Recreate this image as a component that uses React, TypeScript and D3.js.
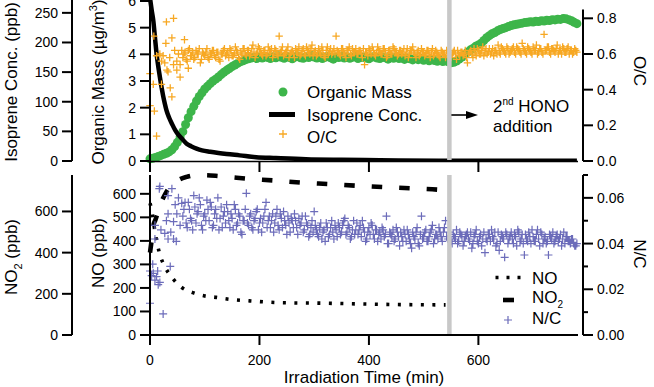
import * as d3 from 'd3';

const W = 654;
const H = 387;
const FONT = '"Liberation Sans", Arial, Helvetica, sans-serif';

// organic mass (µg/m3), one reading every omStep minutes from t = 0
const omStep = 5;
const organicMass = [
  0.08, 0.1, 0.13, 0.17, 0.21, 0.25, 0.29, 0.34, 0.42, 0.54,
  0.7, 0.9, 1.1, 1.37, 1.62, 1.85, 2.05, 2.25, 2.42, 2.56,
  2.7, 2.8, 2.9, 3.0, 3.07, 3.15, 3.24, 3.33, 3.4, 3.47,
  3.54, 3.6, 3.66, 3.72, 3.76, 3.8, 3.83, 3.86, 3.88, 3.84,
  3.9, 3.86, 3.93, 3.88, 3.84, 3.91, 3.87, 3.95, 3.89, 3.85,
  3.92, 3.88, 3.83, 3.9, 3.94, 3.87, 3.85, 3.91, 3.88, 3.96,
  3.9, 3.86, 3.92, 3.84, 3.89, 3.93, 3.87, 3.82, 3.9, 3.88,
  3.94, 3.86, 3.91, 3.85, 3.89, 3.92, 3.84, 3.88, 3.9, 3.86,
  3.83, 3.89, 3.92, 3.86, 3.84, 3.9, 3.87, 3.82, 3.88, 3.85,
  3.9, 3.84, 3.87, 3.81, 3.86, 3.83, 3.79, 3.85, 3.8, 3.84,
  3.78, 3.82, 3.76, 3.8, 3.77, 3.74, 3.78, 3.73, 3.76, 3.72,
  3.68, 3.7, 3.75, 3.82, 3.9, 3.98, 4.08, 4.16, 4.22, 4.3,
  4.35, 4.42, 4.52, 4.62, 4.7, 4.77, 4.82, 4.88, 4.93, 4.97,
  5.0, 5.04, 5.08, 5.11, 5.13, 5.15, 5.17, 5.19, 5.2, 5.22,
  5.21, 5.24, 5.23, 5.26, 5.25, 5.28, 5.27, 5.3, 5.29, 5.32,
  5.31, 5.34, 5.33, 5.3, 5.26, 5.2, 5.15,
];

// isoprene (ppb): [min, ppb]
const isoprene: [number, number][] = [
  [0, 275], [3, 255], [6, 237], [9, 209], [12, 181], [15, 160], [18, 142],
  [21, 125], [24, 110], [27, 97], [30, 86], [35, 73], [40, 63], [46, 52],
  [52, 44], [60, 36], [67, 29], [75, 25], [85, 21], [95, 18], [110, 15.5],
  [125, 13.5], [140, 11.8], [164, 9.5], [194, 6.5], [230, 5], [285, 3],
  [350, 2], [420, 1.3], [528, 0.6], [650, 0.4], [780, 0.3],
];

// O/C: scattered early readings, then two interleaved runs every 4 min
const ocEarly: [number, number][] = [
  [0, 0.49], [0, 0.31], [6, 0.43], [8, 0.28], [12, 0.14], [7, 0.7], [12, 0.59],
  [18, 0.6], [21, 0.56], [24, 0.59], [21, 0.43], [27, 0.55], [29, 0.66],
  [30, 0.78], [31, 0.51], [33, 0.5], [36, 0.58], [37, 0.41], [40, 0.36],
  [40, 0.69], [43, 0.8], [43, 0.54], [45, 0.62], [49, 0.56], [49, 0.51],
  [52, 0.6], [55, 0.54], [55, 0.47], [58, 0.62], [63, 0.68], [70, 0.52],
];
const ocStep = 4;
const ocStartA = 60;
const ocValuesA = [
  0.58, 0.61, 0.56, 0.63, 0.59, 0.57, 0.62, 0.6, 0.55, 0.61,
  0.59, 0.63, 0.57, 0.6, 0.62, 0.58, 0.61, 0.56, 0.6, 0.63,
  0.6, 0.58, 0.62, 0.59, 0.64, 0.61, 0.57, 0.6, 0.63, 0.59,
  0.62, 0.6, 0.65, 0.58, 0.61, 0.63, 0.6, 0.62, 0.59, 0.64,
  0.61, 0.58, 0.63, 0.6, 0.7, 0.62, 0.59, 0.61, 0.64, 0.6,
  0.62, 0.58, 0.61, 0.64, 0.6, 0.63, 0.59, 0.62, 0.6, 0.65,
  0.61, 0.59, 0.63, 0.6, 0.62, 0.58, 0.64, 0.61, 0.6, 0.63,
  0.7, 0.61, 0.59, 0.63, 0.6, 0.62, 0.64, 0.59, 0.61, 0.63,
  0.6, 0.62, 0.58, 0.54, 0.61, 0.63, 0.6, 0.62, 0.59, 0.64,
  0.61, 0.6, 0.63, 0.58, 0.62, 0.6, 0.64, 0.61, 0.59, 0.62,
  0.6, 0.63, 0.61, 0.58, 0.62, 0.64, 0.6, 0.61, 0.59, 0.63,
  0.61, 0.6, 0.62, 0.58, 0.63, 0.6, 0.61, 0.59, 0.62, 0.6,
  0.58, 0.61, 0.59, 0.6, 0.62, 0.57, 0.6, 0.61, 0.59, 0.62,
  0.55, 0.61, 0.6, 0.63, 0.59, 0.62, 0.6, 0.64, 0.61, 0.6,
  0.63, 0.61, 0.59, 0.62, 0.65, 0.6, 0.63, 0.61, 0.64, 0.6,
  0.62, 0.64, 0.6, 0.63, 0.61, 0.66, 0.62, 0.6, 0.63, 0.61,
  0.64, 0.62, 0.6, 0.63, 0.61, 0.71, 0.62, 0.64, 0.6, 0.63,
  0.61, 0.65, 0.62, 0.6, 0.63, 0.61, 0.64, 0.62, 0.6, 0.63,
  0.61,
];
const ocStartB = 62;
const ocValuesB = [
  0.6, 0.57, 0.62, 0.59, 0.61, 0.58, 0.6, 0.63, 0.57, 0.6,
  0.61, 0.58, 0.6, 0.62, 0.59, 0.61, 0.57, 0.6, 0.62, 0.59,
  0.61, 0.63, 0.59, 0.6, 0.62, 0.58, 0.61, 0.63, 0.6, 0.62,
  0.59, 0.63, 0.61, 0.6, 0.64, 0.61, 0.59, 0.62, 0.6, 0.62,
  0.63, 0.6, 0.62, 0.59, 0.61, 0.64, 0.6, 0.62, 0.58, 0.61,
  0.6, 0.63, 0.61, 0.59, 0.62, 0.6, 0.64, 0.61, 0.63, 0.59,
  0.62, 0.6, 0.61, 0.64, 0.59, 0.62, 0.6, 0.63, 0.61, 0.6,
  0.62, 0.6, 0.63, 0.61, 0.58, 0.62, 0.6, 0.63, 0.61, 0.6,
  0.62, 0.6, 0.63, 0.61, 0.59, 0.62, 0.64, 0.6, 0.61, 0.62,
  0.6, 0.63, 0.61, 0.59, 0.62, 0.6, 0.63, 0.61, 0.6, 0.62,
  0.61, 0.59, 0.63, 0.6, 0.62, 0.61, 0.58, 0.62, 0.6, 0.61,
  0.59, 0.62, 0.6, 0.61, 0.59, 0.62, 0.6, 0.58, 0.61, 0.6,
  0.62, 0.6, 0.58, 0.61, 0.6, 0.62, 0.59, 0.61, 0.6, 0.58,
  0.6, 0.62, 0.58, 0.61, 0.63, 0.6, 0.62, 0.59, 0.63, 0.61,
  0.6, 0.63, 0.62, 0.6, 0.61, 0.64, 0.62, 0.6, 0.63, 0.61,
  0.63, 0.61, 0.64, 0.62, 0.6, 0.63, 0.61, 0.64, 0.62, 0.6,
  0.62, 0.65, 0.61, 0.63, 0.6, 0.62, 0.64, 0.61, 0.63, 0.62,
  0.63, 0.6, 0.62, 0.64, 0.61, 0.63, 0.6, 0.62, 0.61, 0.62,
];

// NO and NO2 (ppb): [min, ppb]
const noConc: [number, number][] = [
  [0, 560], [3, 532], [9, 440], [14, 380], [19.5, 331], [27, 291], [40, 245],
  [58, 202], [78, 180], [100, 166], [121, 160], [141, 153], [182, 145],
  [243, 137], [322, 135], [406, 131], [470, 129], [540, 128],
];
const no2Conc: [number, number][] = [
  [0, 400], [3, 460], [6, 530], [10, 560], [15, 600], [20, 640], [25, 670],
  [30, 695], [36, 718], [45, 740], [55, 757], [67, 768], [80, 775], [100, 776],
  [125, 772], [150, 766], [175, 760], [228, 750], [277, 740], [325, 733],
  [378, 725], [429, 718], [478, 712], [530, 705], [540, 703],
];

// N/C: scattered early readings, then two interleaved runs every 4 min
const ncEarly: [number, number][] = [
  [0, 0.028], [0, 0.0139], [3, 0.026], [5, 0.031], [6, 0.027], [9, 0.024],
  [9, 0.048], [9, 0.042], [12, 0.0255], [14, 0.028], [15, 0.022], [17, 0.064],
  [18, 0.065], [18, 0.023], [20, 0.046], [24, 0.0092], [27, 0.0445], [30, 0.05],
  [33, 0.061], [33, 0.053], [33, 0.042], [37, 0.03], [38, 0.045], [40, 0.064],
  [43, 0.042], [43, 0.0496], [46, 0.057], [48, 0.041], [49, 0.053], [52, 0.06],
  [55, 0.048], [58, 0.0576],
];
const ncStep = 4;
const ncStartA = 60;
const ncValuesA = [
  0.052, 0.058, 0.047, 0.055, 0.05, 0.061, 0.049, 0.054, 0.057, 0.046,
  0.053, 0.059, 0.05, 0.056, 0.048, 0.055, 0.06, 0.051, 0.047, 0.054,
  0.057, 0.05, 0.053, 0.046, 0.055, 0.049, 0.052, 0.044, 0.05, 0.062,
  0.048, 0.053, 0.046, 0.051, 0.055, 0.049, 0.045, 0.052, 0.058, 0.05,
  0.047, 0.053, 0.049, 0.055, 0.046, 0.051, 0.054, 0.048, 0.052, 0.045,
  0.05, 0.053, 0.047, 0.051, 0.049, 0.045, 0.052, 0.048, 0.044, 0.05,
  0.054, 0.046, 0.043, 0.049, 0.045, 0.041, 0.047, 0.044, 0.05, 0.042,
  0.046, 0.049, 0.044, 0.048, 0.051, 0.045, 0.047, 0.043, 0.05, 0.046,
  0.044, 0.048, 0.05, 0.045, 0.042, 0.047, 0.049, 0.044, 0.046, 0.041,
  0.045, 0.047, 0.043, 0.052, 0.04, 0.044, 0.046, 0.042, 0.045, 0.039,
  0.043, 0.046, 0.041, 0.044, 0.04, 0.045, 0.042, 0.047, 0.039, 0.052,
  0.043, 0.046, 0.041, 0.045, 0.048, 0.042, 0.044, 0.047, 0.043, 0.045,
  0.05, 0.042, 0.045, 0.04, 0.043, 0.046, 0.041, 0.044, 0.039, 0.043,
  0.045, 0.041, 0.038, 0.043, 0.046, 0.04, 0.044, 0.042, 0.036, 0.041,
  0.044, 0.046, 0.042, 0.039, 0.045, 0.041, 0.043, 0.034, 0.044, 0.042,
  0.045, 0.04, 0.043, 0.046, 0.041, 0.044, 0.035, 0.042, 0.045, 0.04,
  0.043, 0.041, 0.046, 0.039, 0.044, 0.042, 0.04, 0.035, 0.043, 0.045,
  0.041, 0.044, 0.042, 0.039, 0.045, 0.043, 0.041, 0.04, 0.042, 0.039,
  0.04,
];
const ncStartB = 62;
const ncValuesB = [
  0.055, 0.049, 0.058, 0.051, 0.046, 0.056, 0.053, 0.06, 0.048, 0.052,
  0.05, 0.055, 0.058, 0.047, 0.053, 0.051, 0.046, 0.056, 0.052, 0.049,
  0.054, 0.047, 0.051, 0.057, 0.048, 0.053, 0.045, 0.05, 0.055, 0.049,
  0.052, 0.047, 0.05, 0.054, 0.046, 0.051, 0.049, 0.055, 0.047, 0.052,
  0.05, 0.045, 0.052, 0.048, 0.053, 0.047, 0.05, 0.044, 0.049, 0.051,
  0.047, 0.05, 0.044, 0.048, 0.052, 0.046, 0.049, 0.043, 0.047, 0.045,
  0.048, 0.044, 0.047, 0.042, 0.046, 0.049, 0.043, 0.047, 0.045, 0.048,
  0.043, 0.047, 0.045, 0.05, 0.044, 0.048, 0.042, 0.046, 0.044, 0.049,
  0.046, 0.043, 0.047, 0.041, 0.045, 0.044, 0.048, 0.042, 0.046, 0.044,
  0.042, 0.046, 0.044, 0.04, 0.045, 0.043, 0.041, 0.047, 0.043, 0.045,
  0.041, 0.044, 0.046, 0.042, 0.038, 0.043, 0.045, 0.04, 0.044, 0.042,
  0.045, 0.041, 0.043, 0.046, 0.04, 0.044, 0.042, 0.045, 0.041, 0.047,
  0.043, 0.045, 0.041, 0.044, 0.042, 0.04, 0.045, 0.043, 0.041, 0.044,
  0.042, 0.045, 0.04, 0.044, 0.041, 0.043, 0.039, 0.045, 0.042, 0.044,
  0.041, 0.043, 0.045, 0.04, 0.037, 0.044, 0.042, 0.045, 0.04, 0.043,
  0.042, 0.044, 0.039, 0.045, 0.042, 0.04, 0.044, 0.041, 0.043, 0.046,
  0.041, 0.044, 0.042, 0.045, 0.04, 0.043, 0.041, 0.044, 0.042, 0.04,
  0.043, 0.041, 0.044, 0.042, 0.04, 0.043, 0.041, 0.042, 0.04, 0.039,
];

const hono2Time = 547; // second HONO addition (min)

const xTicks = [0, 200, 400, 600];
const isoTicks = [0, 50, 100, 150, 200, 250];
const omTicks = [0, 1, 2, 3, 4, 5, 6];
const ocTicks = [0, 0.2, 0.4, 0.6, 0.8];
const no2Ticks = [0, 200, 400, 600];
const noTicks = [0, 100, 200, 300, 400, 500, 600];
const ncTicks = [0, 0.02, 0.04, 0.06];
const ncMinorTicks = [0.01, 0.03, 0.05, 0.07];

const GREEN = '#3db54a';
const ORANGE = '#f7a823';
const PURPLE = '#6c6cba';
const GREY = '#c8c8c8';

// layout
const L_AX = 72;
const M_AX = 150;
const R_AX = 583;
const TOP_Y0 = 1;
const TOP_Y1 = 161;
const BOT_Y0 = 175;
const BOT_Y1 = 335;

const x = d3.scaleLinear().domain([0, 782]).range([M_AX, 578]);
const yOM = d3.scaleLinear().domain([0, 6]).range([TOP_Y1, TOP_Y0]);
const yIso = d3.scaleLinear().domain([0, 270]).range([TOP_Y1, TOP_Y0]);
const yOC = d3.scaleLinear().domain([0, 0.85]).range([TOP_Y1, 9.4]);
const yNO = d3.scaleLinear().domain([0, 680]).range([BOT_Y1, BOT_Y0]);
const yNO2 = d3.scaleLinear().domain([0, 777]).range([BOT_Y1, BOT_Y0]);
const yNC = d3.scaleLinear().domain([0, 0.07]).range([BOT_Y1, BOT_Y0]);

const crosses = (pts: number[][], r: number) =>
  pts.map(([px, py]) => `M${px - r},${py}h${2 * r}M${px},${py - r}v${2 * r}`).join('');

const VAxis = ({ at, scale, ticks, side, fmt, y0, y1, minor = [] }: any) => {
  const dir = side === 'left' ? -1 : 1;
  return (
    <g>
      <line x1={at} x2={at} y1={y0} y2={y1} stroke="#000" strokeWidth={2} />
      {ticks.map((t: number) => (
        <g key={t}>
          <line x1={at} x2={at + dir * 10} y1={scale(t)} y2={scale(t)} stroke="#000" strokeWidth={2} />
          <text x={at + dir * 14} y={scale(t) + 5} fontSize={14}
            textAnchor={side === 'left' ? 'end' : 'start'}>{fmt(t)}</text>
        </g>
      ))}
      {minor.map((t: number) => (
        <line key={'m' + t} x1={at} x2={at + dir * 5} y1={scale(t)} y2={scale(t)} stroke="#000" strokeWidth={2} />
      ))}
    </g>
  );
};

export default function App() {
  const omPts = organicMass.map((v, i) => [x(i * omStep), yOM(v)]);
  const ocPts = [
    ...ocEarly.map(([t, v]) => [x(t), yOC(v)]),
    ...ocValuesA.map((v, i) => [x(ocStartA + i * ocStep), yOC(v)]),
    ...ocValuesB.map((v, i) => [x(ocStartB + i * ocStep), yOC(v)]),
  ];
  const ncPts = [
    ...ncEarly.map(([t, v]) => [x(t), yNC(v)]),
    ...ncValuesA.map((v, i) => [x(ncStartA + i * ncStep), yNC(v)]),
    ...ncValuesB.map((v, i) => [x(ncStartB + i * ncStep), yNC(v)]),
  ];

  const isoLine = d3.line<[number, number]>()
    .x(d => x(d[0])).y(d => yIso(d[1])).curve(d3.curveMonotoneX);
  const noLine = d3.line<[number, number]>()
    .x(d => x(d[0])).y(d => yNO(d[1])).curve(d3.curveMonotoneX);
  const no2Line = d3.line<[number, number]>()
    .x(d => x(d[0])).y(d => yNO2(d[1])).curve(d3.curveMonotoneX);

  const gx = x(hono2Time);
  const f1 = d3.format('.1f');
  const f2 = d3.format('.2f');

  return (
    <svg width={W} height={H} style={{ position: 'absolute', left: 0, top: 0, background: '#fff' }}
      fontFamily={FONT} fill="#000">
      <defs>
        <clipPath id="topClip"><rect x={0} y={0} width={W} height={TOP_Y1 + 1} /></clipPath>
      </defs>

      {/* top panel data */}
      <g fill={GREEN}>
        {omPts.map((p, i) => <circle key={i} cx={p[0]} cy={p[1]} r={4.5} />)}
      </g>
      <path d={isoLine(isoprene) || ''} fill="none" stroke="#000" strokeWidth={4.5} clipPath="url(#topClip)" />
      <path d={crosses(ocPts, 3.7)} stroke={ORANGE} strokeWidth={1.3} fill="none" />
      <line x1={gx} x2={gx} y1={0} y2={TOP_Y1 - 1} stroke={GREY} strokeWidth={4.5} />

      {/* bottom panel data */}
      <path d={noLine(noConc) || ''} fill="none" stroke="#000" strokeWidth={3.6} strokeDasharray="3 8.5" />
      <path d={no2Line(no2Conc) || ''} fill="none" stroke="#000" strokeWidth={4.6} strokeDasharray="10.5 17" />
      <path d={crosses(ncPts, 4)} stroke={PURPLE} strokeWidth={1.2} fill="none" />
      <line x1={gx} x2={gx} y1={BOT_Y0} y2={BOT_Y1} stroke={GREY} strokeWidth={4.5} />

      {/* x axes */}
      <line x1={M_AX} x2={578} y1={TOP_Y1 + 0.5} y2={TOP_Y1 + 0.5} stroke="#000" strokeWidth={1.5} />
      <line x1={M_AX - 1} x2={578} y1={BOT_Y1} y2={BOT_Y1} stroke="#000" strokeWidth={2} />
      {xTicks.map(t => (
        <g key={t}>
          <line x1={x(t)} x2={x(t)} y1={TOP_Y1} y2={172} stroke="#000" strokeWidth={2} />
          <line x1={x(t)} x2={x(t)} y1={BOT_Y1} y2={345} stroke="#000" strokeWidth={2} />
          <text x={x(t)} y={365} fontSize={14} textAnchor="middle">{t}</text>
        </g>
      ))}
      <text x={(M_AX + 578) / 2} y={383} fontSize={17} textAnchor="middle">Irradiation Time (min)</text>

      {/* top y axes */}
      <VAxis at={L_AX} scale={yIso} ticks={isoTicks} side="left" fmt={String} y0={0} y1={TOP_Y1} />
      <VAxis at={M_AX} scale={yOM} ticks={omTicks} side="left" fmt={String} y0={0} y1={TOP_Y1} />
      <VAxis at={R_AX} scale={yOC} ticks={ocTicks} side="right" fmt={f1} y0={yOC(0.85)} y1={TOP_Y1} />

      {/* bottom y axes */}
      <VAxis at={L_AX} scale={yNO2} ticks={no2Ticks} side="left" fmt={String} y0={BOT_Y0} y1={BOT_Y1} />
      <VAxis at={M_AX} scale={yNO} ticks={noTicks} side="left" fmt={String} y0={BOT_Y0} y1={BOT_Y1} />
      <VAxis at={R_AX} scale={yNC} ticks={ncTicks} side="right" fmt={f2} y0={BOT_Y0} y1={BOT_Y1}
        minor={ncMinorTicks} />

      {/* axis titles */}
      <text transform="translate(17,82) rotate(-90)" fontSize={17} textAnchor="middle">Isoprene Conc. (ppb)</text>
      <text transform="translate(104,82) rotate(-90)" fontSize={17} textAnchor="middle">
        Organic Mass (µg/m<tspan fontSize={11} dy={-7}>3</tspan><tspan dy={7}>)</tspan>
      </text>
      <text transform="translate(634,71) rotate(90)" fontSize={17} textAnchor="middle">O/C</text>
      <text transform="translate(17,257) rotate(-90)" fontSize={17} textAnchor="middle">
        NO<tspan fontSize={11} dy={5}>2</tspan><tspan dy={-5}> (ppb)</tspan>
      </text>
      <text transform="translate(104,253) rotate(-90)" fontSize={17} textAnchor="middle">NO (ppb)</text>
      <text transform="translate(634,254) rotate(90)" fontSize={17} textAnchor="middle">N/C</text>

      {/* top legend */}
      <circle cx={283} cy={92} r={4.5} fill={GREEN} />
      <text x={307} y={97.7} fontSize={17}>Organic Mass</text>
      <line x1={269} x2={295} y1={114.5} y2={114.5} stroke="#000" strokeWidth={5} />
      <text x={307} y={120.7} fontSize={17}>Isoprene Conc.</text>
      <path d={crosses([[283, 134]], 4)} stroke={ORANGE} strokeWidth={1.3} />
      <text x={307} y={142.7} fontSize={17}>O/C</text>

      {/* HONO annotation */}
      <text x={493} y={111.7} fontSize={17}>
        2<tspan fontSize={10} dy={-7}>nd</tspan><tspan dy={7}> HONO</tspan>
      </text>
      <text x={493} y={132} fontSize={17}>addition</text>
      <line x1={gx + 2} x2={468} y1={115} y2={115} stroke="#000" strokeWidth={1.6} />
      <path d="M466,111L478,115L466,119Z" fill="#000" />

      {/* bottom legend */}
      <line x1={495.5} x2={521} y1={277.5} y2={277.5} stroke="#000" strokeWidth={3.6} strokeDasharray="3 8" />
      <text x={532} y={283.5} fontSize={17}>NO</text>
      <line x1={503} x2={514} y1={300} y2={300} stroke="#000" strokeWidth={4.6} />
      <text x={532} y={303} fontSize={17}>
        NO<tspan fontSize={10} dy={5}>2</tspan>
      </text>
      <path d={crosses([[508, 320]], 4)} stroke={PURPLE} strokeWidth={1.2} />
      <text x={532} y={324} fontSize={17}>N/C</text>
    </svg>
  );
}
